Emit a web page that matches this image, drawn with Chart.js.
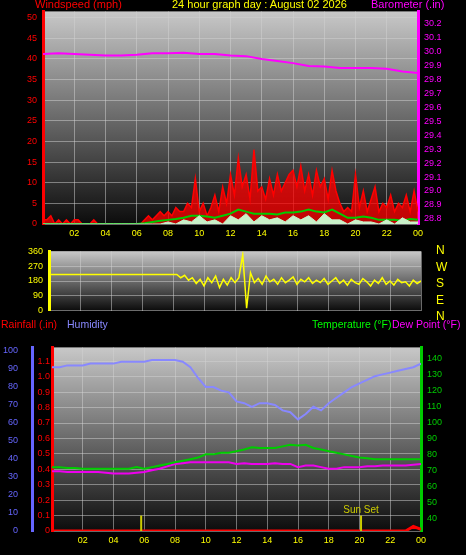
<!DOCTYPE html>
<html><head><meta charset="utf-8">
<script src="https://cdn.jsdelivr.net/npm/chart.js@4/dist/chart.umd.min.js"></script>
<style>
body{margin:0;background:#000;width:466px;height:555px;overflow:hidden;position:relative;font-family:"Liberation Sans",Arial,sans-serif}
canvas{position:absolute;left:0}
.t{position:absolute;font-size:11px;white-space:nowrap}
</style></head><body>
<canvas id="c1" style="top:0"></canvas>
<canvas id="c2" style="top:240px"></canvas>
<canvas id="c3" style="top:336px"></canvas>
<div class="t" style="left:35px;top:-2px;color:#f00">Windspeed (mph)</div>
<div class="t" style="left:172px;top:-2px;color:#ff0">24 hour graph day : August 02 2026</div>
<div class="t" style="left:371px;top:-2px;color:#f0f">Barometer (.in)</div>
<div class="t" style="left:1px;top:318px;color:#f00;font-size:10.5px">Rainfall (.in)</div>
<div class="t" style="left:67px;top:318px;color:#88f;font-size:10.5px">Humidity</div>
<div class="t" style="left:312px;top:318px;color:#0f0;font-size:10.5px">Temperature (°F)</div>
<div class="t" style="left:392px;top:318px;color:#f0f;font-size:10.5px">Dew Point (°F)</div>
<script>
const hours = ['02','04','06','08','10','12','14','16','18','20','22','00'];
const gust = [1,1,2,0,1,0,1,0, 1,1,0,0, 0,1,0,0, 0,0,0,0, 0,0,0,0, 0,0,1,2, 1,2,3,2, 3,2,4,3, 3,5,4,11, 3,5,2,4, 7,3,9,5, 12,7,16,9, 12,6,18,8, 9,6,11,7, 12,8,10,12, 13,9,14,8, 12,7,13,9, 11,6,13,8, 5,3,4,3, 12,4,8,3, 6,9,3,5, 4,7,3,5, 4,7,3,8, 3];
const windAvg = [0,0,0,0,0,0,0,0,0,0,0,0,0,0.2,0.5,0.8,1,1.2,1.5,2,2,1.8,1.5,2,2.5,3.5,3,2.5,2.5,2.5,2.3,2.8,2.8,3,3.5,3,2.8,3.5,2.5,1.5,1.5,1.8,1.5,1,1,1,0.8,1.2,1];
const windLull = [0,0,0,0,0,0,0,0,0,0,0,0,0,0,0,0,0.5,0,1,0.5,2,0.5,1,0,2,1,2.5,0.5,2,1,1.5,0.5,2,1,2,0.5,2.5,1,1,0,1,0.5,0.5,0,1,0,1.5,0.5,0.5];
const baro = [29.98,29.985,29.98,29.975,29.97,29.97,29.975,29.985,29.985,29.99,29.98,29.98,29.97,29.965,29.945,29.93,29.915,29.895,29.89,29.88,29.88,29.88,29.875,29.855,29.845];
const dir = [220,220,220,220,220,220,220,220, 220,220,220,220,220,220,220,220, 220,220,220,220,220,220,220,220, 220,220,220,220,220,220,220,220,
 220,220,200,215,185,200,165,190, 150,200,170,210,140,190,155,200, 170,200,340,15,230,170,195,160, 210,175,190,160,200,170,185,205,
 160,190,175,200,165,185,170,195, 160,180,200,165,185,155,190,170, 160,195,175,150,185,165,200,160, 180,155,190,170,175,150,185,165, 180];
const humidity = [91,91,92,92,92,93,93,93,93,94,94,94,94,95,95,95,95,94,91,85,80,80,78,77,72,71,69,71,71,70,67,66,62,65,69,67,71,74,77,80,82,84,86,87,88,89,90,91,93];
const temp = [72,72,71.5,71.5,71,71,71,71,71,71,71,72,71,72,73,74,75,76,77,78,80,80,81,81,82,83,84.5,84,84,84,85,86,85.5,86,84,83,82,81,80,79,78,77.5,77,77,77,77,77,77,77];
const dew = [69.5,69.5,69,69,69,69,69,68.5,68,68,68,68.5,69,70,71,72.5,74,74.5,75,75,75,75,75,75,74,74.5,74,74,74,74.5,74,74,72,73,73,72,71,71,72,72,72,72.5,72.5,73,73,73,73,73.5,74];
const rainfall = [0,0,0,0,0,0,0,0,0,0,0,0,0,0,0,0,0,0,0,0,0,0,0,0,0,0,0,0,0,0,0,0,0,0,0,0,0,0,0,0,0,0,0,0,0,0,0,0.03,0.01];
const sunTimes = [5.8, 20.1];

const pts=(arr,step)=>arr.map((v,i)=>({x:i*step,y:v}));
const F={family:'"Liberation Sans",Arial,sans-serif',size:9};
const GRID='rgba(210,210,210,0.5)';
const bg={id:'bg',beforeDraw(c){const a=c.chartArea,x=c.ctx;const g=x.createLinearGradient(0,a.top,0,a.bottom);g.addColorStop(0,'#c8c8c8');g.addColorStop(0.5,'#6a6a6a');g.addColorStop(1,'#0c0c0c');x.save();x.fillStyle=g;x.fillRect(a.left,a.top,a.right-a.left,a.bottom-a.top);x.restore();}};
function xScale(show){return {type:'linear',min:0,max:24,afterFit(s){s.height=show?16:0;},
  afterBuildTicks(s){s.ticks=[2,4,6,8,10,12,14,16,18,20,22,24].map(v=>({value:v}));},
  grid:{color:GRID,drawTicks:false},border:{display:false},
  ticks:{display:show,color:'#ff0',font:F,padding:4,maxRotation:0,callback:(v)=>hours[v/2-1]}};}
function tickList(a,b,st,dp){return function(s){s.ticks=[];for(let v=a;v<=b+1e-9;v+=st)s.ticks.push({value:+v.toFixed(dp)});};}
function yAx(pos,min,max,step,col,w,extra){return Object.assign({position:pos,min,max,afterFit(s){s.width=w;},
  grid:{display:pos==='left',color:GRID,drawTicks:false},border:{display:true,color:col,width:3},
  ticks:{color:col,font:F,stepSize:step,padding:6}},extra||{});}
const common={animation:false,responsive:false,plugins:{legend:{display:false},tooltip:{enabled:false}},elements:{point:{radius:0}}};

function mk(id,h){const c=document.getElementById(id);c.width=466;c.height=h;c.style.width='466px';c.style.height=h+'px';return c;}

new Chart(mk('c1',240),{type:'line',plugins:[bg],data:{datasets:[
 {data:pts(baro,1),borderColor:'#f0f',borderWidth:2,yAxisID:'yb'},
 {data:pts(windLull,0.5),borderColor:'#c8f0c8',backgroundColor:'#c8f0c8',borderWidth:1,fill:'origin',yAxisID:'y'},
 {data:pts(windAvg,0.5),borderColor:'#0c0',borderWidth:2,yAxisID:'y'},
 {data:pts(gust,0.25),borderColor:'#f00',backgroundColor:'rgba(255,0,0,0.75)',borderWidth:1.5,fill:'origin',yAxisID:'y'}
]},options:Object.assign({},common,{layout:{padding:{top:10}},scales:{
 x:xScale(true),
 y:yAx('left',0,51.5,5,'#f00',43,{afterBuildTicks:tickList(0,50,5,0)}),
 yb:yAx('right',28.764,30.285,0.1,'#f0f',48,{afterBuildTicks:tickList(28.8,30.2,0.1,1)})
}})});

const nwsen={id:'nwsen',afterDraw(c){const x=c.ctx;x.save();x.fillStyle='#ff0';x.font='12px "Liberation Sans",Arial';['N','W','S','E','N'].forEach((l,i)=>x.fillText(l,436,14+i*16.6));x.restore();}};
new Chart(mk('c2',82),{type:'line',plugins:[bg,nwsen],data:{datasets:[
 {data:pts(dir,0.25),borderColor:'#ff0',borderWidth:1.5,yAxisID:'y'}
]},options:Object.assign({},common,{layout:{padding:{top:4,bottom:5}},scales:{
 x:xScale(false),
 y:yAx('left',0,360,90,'#ff0',49,{grid:{color:GRID,drawTicks:false},afterBuildTicks:tickList(0,360,90,0)}),
 y2:{position:'right',min:0,max:360,afterFit(s){s.width=45;},ticks:{display:false},grid:{display:false},border:{display:false}}
}})});

const sun={id:'sun',afterDatasetsDraw(c){const x=c.ctx,sx=c.scales.x,sy=c.scales.yr;x.save();x.strokeStyle='#cc0';x.lineWidth=2;
 sunTimes.forEach(t=>{x.beginPath();x.moveTo(sx.getPixelForValue(t),sy.getPixelForValue(0));x.lineTo(sx.getPixelForValue(t),sy.getPixelForValue(0.1));x.stroke();});
 x.fillStyle='#cc0';x.font='10px "Liberation Sans",Arial';x.textAlign='center';x.fillText('Sun Set',sx.getPixelForValue(20.1),sy.getPixelForValue(0.1)-3);x.restore();}};
new Chart(mk('c3',211),{type:'line',plugins:[bg,sun],data:{datasets:[
 {data:pts(humidity,0.5),borderColor:'#88f',borderWidth:2,yAxisID:'yh'},
 {data:pts(temp,0.5),borderColor:'#0c0',borderWidth:2,yAxisID:'yt'},
 {data:pts(dew,0.5),borderColor:'#e0e',borderWidth:2,yAxisID:'yt'},
 {data:pts(rainfall,0.5),borderColor:'#f00',borderWidth:3,yAxisID:'yr'}
]},options:Object.assign({},common,{layout:{padding:{top:4}},scales:{
 x:xScale(true),
 yr:yAx('left',0,1.19,0.1,'#f00',20,{afterBuildTicks:tickList(0,1.1,0.1,1),ticks:{color:'#f00',font:F,padding:2},grid:{color:GRID,drawTicks:false}}),
 yh:yAx('left',0,102,10,'#66f',32,{grid:{display:false},afterBuildTicks:tickList(0,100,10,0)}),
 yt:yAx('right',32,147,10,'#0c0',45,{afterBuildTicks:tickList(40,140,10,0)})
}})});
</script></body></html>
